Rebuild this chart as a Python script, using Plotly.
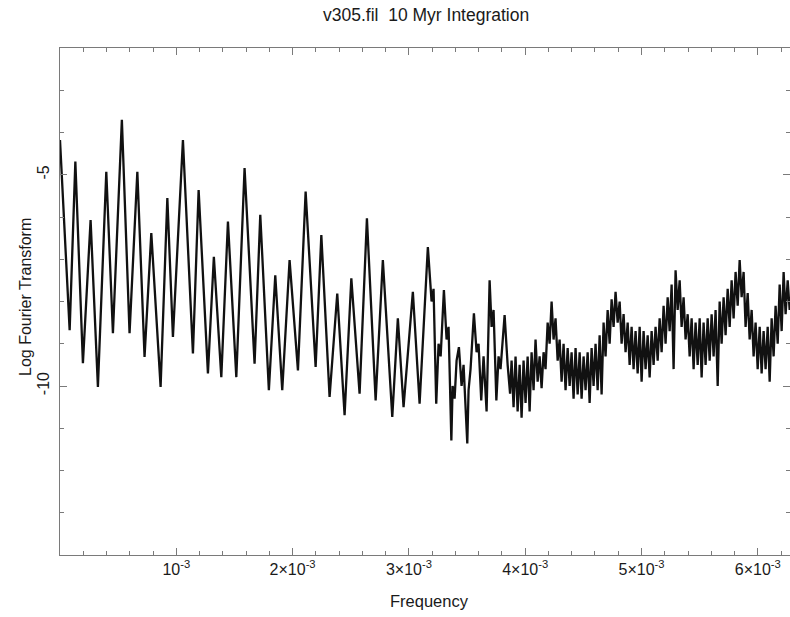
import plotly.graph_objects as go

# Frequency in units of 1e-3, and log of the Fourier transform
freq_milli = [
    0.000, 0.083, 0.132, 0.197, 0.263, 0.326, 0.398, 0.455, 0.532, 0.598,
    0.665, 0.727, 0.785, 0.865, 0.923, 0.971, 1.057, 1.143, 1.192, 1.272,
    1.323, 1.387, 1.444, 1.516, 1.587, 1.673, 1.722, 1.796, 1.851, 1.911,
    1.974, 2.046, 2.112, 2.198, 2.247, 2.318, 2.384, 2.447, 2.505, 2.576,
    2.639, 2.714, 2.776, 2.857, 2.905, 2.954, 3.034, 3.092, 3.163,
    3.195, 3.212, 3.235, 3.255, 3.273, 3.301, 3.324, 3.341, 3.365, 3.376,
    3.393, 3.410, 3.430, 3.453, 3.470, 3.502, 3.513, 3.530, 3.559, 3.582,
    3.599, 3.622, 3.642, 3.668, 3.694, 3.711, 3.728, 3.752, 3.771, 3.788,
    3.823, 3.849, 3.870,
    3.883, 3.900, 3.917, 3.935, 3.952, 3.969, 3.986, 4.003, 4.021, 4.038,
    4.055, 4.072, 4.089, 4.107, 4.124, 4.141, 4.158, 4.175, 4.193, 4.210,
    4.227, 4.244, 4.261, 4.279, 4.296, 4.313, 4.330, 4.347, 4.365, 4.382,
    4.399, 4.416, 4.433, 4.451, 4.468, 4.485, 4.502, 4.519, 4.537, 4.554,
    4.571, 4.588, 4.605, 4.623, 4.640, 4.657, 4.674, 4.691, 4.709, 4.726,
    4.743, 4.760, 4.777, 4.795, 4.812, 4.829, 4.846, 4.863, 4.881, 4.898,
    4.915, 4.932, 4.949, 4.967, 4.984, 5.001, 5.018, 5.035, 5.053, 5.070,
    5.087, 5.104, 5.121, 5.139, 5.156, 5.173, 5.190, 5.207, 5.225, 5.242,
    5.259, 5.276, 5.293, 5.311, 5.328, 5.345, 5.362, 5.379, 5.397, 5.414,
    5.431, 5.448, 5.465, 5.483, 5.500, 5.517, 5.534, 5.551, 5.569, 5.586,
    5.603, 5.620, 5.637, 5.655, 5.672, 5.689, 5.706, 5.723, 5.741, 5.758,
    5.775, 5.792, 5.809, 5.827, 5.844, 5.861, 5.878, 5.895, 5.913, 5.930,
    5.947, 5.964, 5.981, 5.999, 6.016, 6.033, 6.050, 6.067, 6.085, 6.102,
    6.119, 6.136, 6.153, 6.171, 6.188, 6.205, 6.222, 6.239, 6.257, 6.274,
]

log_ft = [
    -4.18, -8.68, -4.69, -9.46, -6.07, -10.02, -4.93, -8.75, -3.70, -8.75,
    -4.93, -9.31, -6.38, -10.02, -5.55, -8.84, -4.18, -9.23, -5.36, -9.70,
    -6.94, -9.79, -6.11, -9.79, -4.84, -9.47, -5.95, -10.10, -7.38, -10.10,
    -7.02, -9.63, -5.40, -9.55, -6.43, -10.26, -7.81, -10.69, -7.45, -10.18,
    -6.03, -10.34, -7.02, -10.73, -8.40, -10.50, -7.77, -10.42, -6.71,
    -8.00, -7.70, -10.42, -9.00, -9.30, -7.73, -8.90, -8.60, -11.29, -10.00,
    -10.30, -9.40, -9.08, -10.00, -9.50, -11.36, -10.10, -9.60, -8.28, -9.20,
    -9.00, -10.34, -9.30, -10.60, -7.50, -8.60, -8.20, -10.34, -9.30, -9.60,
    -8.32, -9.50, -10.18,
    -9.40, -10.50, -9.30, -10.60, -9.50, -10.75, -9.40, -10.40, -9.30, -10.60,
    -9.20, -10.10, -8.90, -9.90, -9.30, -10.05, -9.20, -9.60, -8.50, -9.00,
    -8.00, -8.90, -8.40, -9.40, -8.90, -9.90, -9.00, -10.10, -9.10, -10.00,
    -9.20, -10.30, -9.10, -10.20, -9.20, -10.30, -9.30, -10.10, -9.20, -10.40,
    -9.10, -10.00, -9.00, -10.10, -8.80, -10.20, -8.50, -9.30, -8.20, -9.00,
    -7.95, -8.60, -7.77, -8.50, -8.00, -9.00, -8.30, -9.20, -8.50, -9.50,
    -8.60, -9.60, -8.70, -9.70, -8.60, -9.90, -8.70, -9.60, -8.80, -9.80,
    -8.70, -9.50, -8.60, -9.40, -8.40, -9.20, -8.10, -9.00, -7.90, -8.70,
    -7.60, -9.60, -7.26, -8.20, -7.50, -8.60, -7.90, -8.90, -8.30, -9.30,
    -8.40, -9.60, -8.50, -9.50, -8.40, -9.80, -8.50, -9.50, -8.40, -9.40,
    -8.30, -9.30, -8.20, -10.00, -8.00, -9.00, -7.90, -8.80, -7.70, -8.60,
    -7.50, -8.40, -7.30, -8.10, -7.02, -7.90, -7.30, -8.60, -7.80, -8.90,
    -8.20, -9.30, -8.50, -9.60, -8.60, -9.70, -8.70, -9.60, -8.60, -9.90,
    -8.40, -9.30, -8.10, -9.00, -7.60, -8.70, -7.30, -8.30, -7.50, -8.20,
]

x_tick_vals = [0.001, 0.002, 0.003, 0.004, 0.005, 0.006]
x_tick_text = ["10<sup>-3</sup>", "2×10<sup>-3</sup>", "3×10<sup>-3</sup>",
               "4×10<sup>-3</sup>", "5×10<sup>-3</sup>", "6×10<sup>-3</sup>"]
y_tick_vals = [-10, -5]
y_tick_text = ["-10", "-5"]

title_text = "v305.fil  10 Myr Integration"
x_title = "Frequency"
y_title = "Log Fourier Transform"

freq = [f * 1e-3 for f in freq_milli]

FONT = "Liberation Sans, Arial, sans-serif"
FRAME = "#7a7a7a"
TEXT = "#1a1a1a"

W, H = 790, 617
L, T, B = 60, 48, 62
PW, PH = W - L, H - T - B

fig = go.Figure()
fig.add_trace(go.Scatter(
    x=freq, y=log_ft, mode="lines",
    line=dict(color="#111111", width=2.3),
    hoverinfo="skip", showlegend=False,
))

fig.update_layout(
    width=W, height=H,
    margin=dict(l=L, r=0, t=T, b=B, pad=0),
    paper_bgcolor="white", plot_bgcolor="white",
    font=dict(family=FONT, size=16, color=TEXT),
)
fig.add_annotation(text=title_text, xref="paper", yref="paper",
                   x=(426 - L) / PW, y=1 + (T - 15) / PH,
                   showarrow=False, font=dict(size=17.5, family=FONT, color=TEXT),
                   xanchor="center", yanchor="middle")
fig.add_annotation(text=x_title, xref="paper", yref="paper",
                   x=(429 - L) / PW, y=-(601 - (T + PH)) / PH,
                   showarrow=False, font=dict(size=16.5, family=FONT, color=TEXT),
                   xanchor="center", yanchor="middle")
fig.add_annotation(text=y_title, xref="paper", yref="paper",
                   x=-(L - 25) / PW, y=(T + PH - 297) / PH,
                   showarrow=False, textangle=-90,
                   font=dict(size=16, family=FONT, color=TEXT),
                   xanchor="center", yanchor="middle")

fig.update_xaxes(
    range=[0, PW / 116.3 * 1e-3],
    showgrid=False, zeroline=False,
    showline=True, linecolor=FRAME, linewidth=1, mirror="ticks",
    tickmode="array", tickvals=x_tick_vals, ticktext=x_tick_text,
    ticks="inside", ticklen=7, tickcolor=FRAME, tickwidth=1,
    tickfont=dict(size=16, family=FONT, color=TEXT),
    minor=dict(tickmode="linear", tick0=0, dtick=0.0002, ticks="inside",
               ticklen=4, tickcolor=FRAME, showgrid=False),
)
fig.update_yaxes(
    range=[-14, -2],
    showgrid=False, zeroline=False,
    showline=True, linecolor=FRAME, linewidth=1, mirror="ticks",
    tickmode="array", tickvals=y_tick_vals, ticktext=y_tick_text,
    tickangle=-90, ticklabelstandoff=4,
    ticks="inside", ticklen=7, tickcolor=FRAME, tickwidth=1,
    tickfont=dict(size=16, family=FONT, color=TEXT),
    minor=dict(tickmode="linear", tick0=0, dtick=1, ticks="inside",
               ticklen=4, tickcolor=FRAME, showgrid=False),
)

fig.write_html("out.html", config={"displayModeBar": False},
               post_script="document.body.style.margin='0';")
